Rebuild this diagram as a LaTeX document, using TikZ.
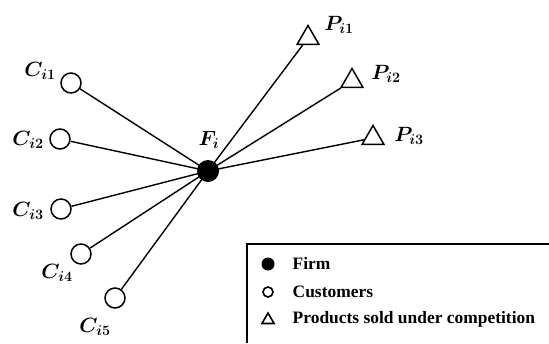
\documentclass[tikz,border=0pt]{standalone}
\usepackage{fontspec}
\setmainfont{Liberation Serif}
\usepackage{amsmath,bm}
\usetikzlibrary{shapes.geometric}
\tikzset{
  firm/.style={circle, fill=black, inner sep=0pt, minimum size=22bp},
  cust/.style={circle, draw, line width=1.5bp, inner sep=0pt, minimum size=20bp},
  prod/.style={regular polygon, regular polygon sides=3, draw, line width=1.5bp, inner sep=0pt, minimum size=25bp},
  lbl/.style={inner sep=0pt, font=\fontsize{21}{25}\selectfont},
  legtext/.style={anchor=west, inner sep=0pt, font=\fontsize{17.5}{21}\selectfont\bfseries},
}
\begin{document}
\begin{tikzpicture}[x=1bp, y=-1bp, line width=1.4bp]
  \useasboundingbox (0,0) rectangle (549,343);
  % firm
  \node[firm] (F) at (208,171) {};
  \node[lbl] (Flab) at (209,140) {$\bm{F_{i}}$};
  % customers
  \node[cust] (C1) at (71,83) {};
  \node[cust] (C2) at (60,139) {};
  \node[cust] (C3) at (61,209) {};
  \node[cust] (C4) at (81,254) {};
  \node[cust] (C5) at (115,298) {};
  \node[lbl] (C1lab) at (40,71) {$\bm{C_{i1}}$};
  \node[lbl] (C2lab) at (28,140) {$\bm{C_{i2}}$};
  \node[lbl] (C3lab) at (28,211) {$\bm{C_{i3}}$};
  \node[lbl] (C4lab) at (57,273) {$\bm{C_{i4}}$};
  \node[lbl] (C5lab) at (95,327) {$\bm{C_{i5}}$};
  % products
  \node[prod] (P1) at (308,38) {};
  \node[prod] (P2) at (352,81) {};
  \node[prod] (P3) at (373,138) {};
  \node[lbl] (P1lab) at (339,25) {$\bm{P_{i1}}$};
  \node[lbl] (P2lab) at (386,74) {$\bm{P_{i2}}$};
  \node[lbl] (P3lab) at (409,136) {$\bm{P_{i3}}$};
  \foreach \n in {C1,C2,C3,C4,C5,P1,P2,P3}
    \draw (F.center) -- (\n);
  % legend
  \draw[line width=1.8bp] (247,343) -- (247,244) -- (549,244);
  \node[circle, fill=black, inner sep=0pt, minimum size=13bp] (lgF) at (268,264) {};
  \node[circle, draw, line width=1.6bp, inner sep=0pt, minimum size=10bp] (lgC) at (268,292) {};
  \node[regular polygon, regular polygon sides=3, draw, line width=1.6bp, inner sep=0pt, minimum size=14bp] (lgP) at (268,320) {};
  \node[legtext] (lgFt) at (292,263) {Firm};
  \node[legtext] (lgCt) at (292,292) {Customers};
  \node[legtext] (lgPt) at (292,319) {Products sold under competition};
\end{tikzpicture}
\end{document}
